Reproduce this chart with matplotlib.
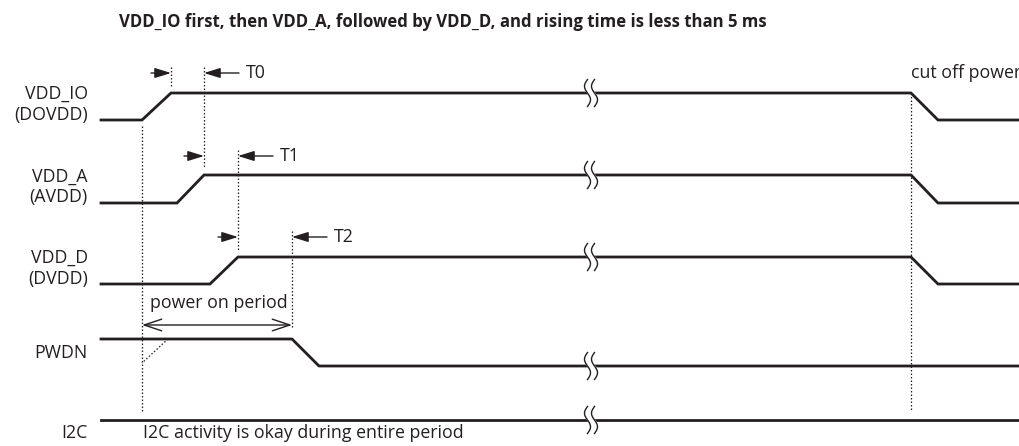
"""Power-up sequence timing diagram."""
import numpy as np
import matplotlib.pyplot as plt

# signal names (label lines)
labels = ['VDD_IO\n(DOVDD)', 'VDD_A\n(AVDD)', 'VDD_D\n(DVDD)', 'PWDN', 'I2C']

# edge times (horizontal units = pixels)
rise_start = [142, 177, 210]   # VDD_IO, VDD_A, VDD_D
rise_end = [171, 204, 238]
fall_start = 911               # cut off power
fall_end = 938
pwdn_fall = [292, 319]
t_names = ['T0', 'T1', 'T2']
break_t = 591                  # time-axis break

# logic levels per row (vertical units = pixels, downwards)
level_high = [93, 175, 257, 339]
level_low = [120, 203, 284, 366]
i2c_level = 420
trace_start, trace_end = 101, 1020

INK = '#231f20'
plt.rcParams['font.family'] = ['Open Sans', 'DejaVu Sans']

fig = plt.figure(figsize=(10.2, 4.46), dpi=100)
ax = fig.add_axes([0, 0, 1, 1])
ax.set_xlim(0, 1020)
ax.set_ylim(446, 0)
ax.axis('off')

lw = 2.0
fs = 12.8
dot = dict(color=INK, lw=0.9, ls=(0, (1.2, 1.6)))

# supply rails
for i in range(3):
    xs = [trace_start, rise_start[i], rise_end[i], fall_start, fall_end, trace_end]
    ys = [level_low[i], level_low[i], level_high[i], level_high[i], level_low[i], level_low[i]]
    ax.plot(xs, ys, color=INK, lw=lw, solid_joinstyle='miter')

# PWDN and I2C
ax.plot([trace_start, pwdn_fall[0], pwdn_fall[1], trace_end],
        [level_high[3], level_high[3], level_low[3], level_low[3]], color=INK, lw=lw)
ax.plot([trace_start, trace_end], [i2c_level, i2c_level], color=INK, lw=lw)

# labels on the left
for i, lab in enumerate(labels):
    if i < 3:
        yc = (level_high[i] + level_low[i]) / 2 - 2
    elif i == 3:
        yc = (level_high[3] + level_low[3]) / 2
    else:
        yc = i2c_level + 13
    ax.text(88, yc, lab, ha='right', va='center', fontsize=fs, color=INK,
            linespacing=1.2)

# break marks
s = np.linspace(0, 2, 60)
for y in [level_high[0], level_high[1], level_high[2], level_low[3], i2c_level]:
    yy = y - 13.5 + 13.5 * s
    ax.fill_betweenx(yy, break_t - 3.5 - 3 * np.sin(np.pi * s),
                     break_t + 3.5 - 3 * np.sin(np.pi * s), color='white', zorder=3)
    for dx in (-3.5, 3.5):
        ax.plot(break_t + dx - 3 * np.sin(np.pi * s), yy, color=INK, lw=1.0, zorder=4)

# dotted reference lines
ax.plot([rise_start[0], rise_start[0]], [126, 413], **dot)
ax.plot([fall_start, fall_start], [level_high[0], 410], **dot)
ax.plot([rise_end[0], rise_end[0]], [67, 88], **dot)
ax.plot([168, rise_start[0]], [level_high[3], 363], **dot)

# T0..T2 markers
t_marks = [rise_end[1], rise_end[2], pwdn_fall[0]]
t_prev = [rise_end[0], rise_end[1], rise_end[2]]
t_rows = [73, 156, 237]
t_bottom = [168, 250, 328]
arrow = dict(arrowstyle='-|>,head_length=0.9,head_width=0.28', color=INK, lw=1.0,
             shrinkA=0, shrinkB=0, mutation_scale=11)
for name, t, tp, y, yb in zip(t_names, t_marks, t_prev, t_rows, t_bottom):
    ax.plot([t, t], [y - 6, yb], **dot)
    ax.annotate('', xy=(tp, y), xytext=(tp - 20, y), arrowprops=arrow)
    ax.annotate('', xy=(t, y), xytext=(t + 35, y), arrowprops=arrow)
    ax.text(t + 42, y, name, ha='left', va='center', fontsize=fs, color=INK)

# power on period
ax.annotate('', xy=(rise_start[0], 325), xytext=(pwdn_fall[0], 325),
            arrowprops=dict(arrowstyle='<->,head_length=0.9,head_width=0.3', color=INK,
                            lw=1.0, shrinkA=0, shrinkB=0, mutation_scale=14))
ax.text(150, 303, 'power on period', ha='left', va='center', fontsize=fs, color=INK)

ax.text(143, 433, 'I2C activity is okay during entire period', ha='left', va='center',
        fontsize=fs, color=INK)
ax.text(911, 73, 'cut off power', ha='left', va='center', fontsize=fs, color=INK)

ax.text(119, 22, 'VDD_IO first, then VDD_A, followed by VDD_D, and rising time is less than 5 ms',
        ha='left', va='center', fontsize=12.1, fontweight='bold', color=INK)

fig.savefig('out.png', dpi=100)
